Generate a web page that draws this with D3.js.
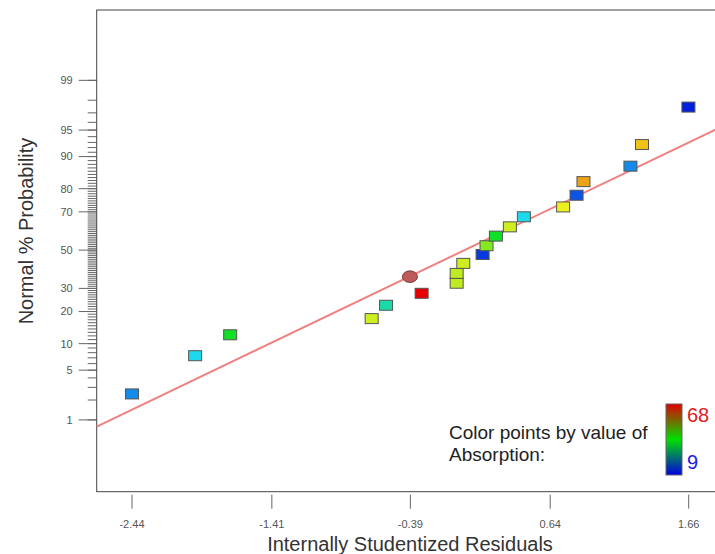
<!DOCTYPE html>
<html>
<head>
<meta charset="utf-8">
<script src="https://cdn.jsdelivr.net/npm/d3@7"></script>
<style>
  body { margin: 0; background: #fff; }
  svg { display: block; }
</style>
</head>
<body>
<script>
// residuals (x), normal % probability (y), absorption (colour) for each run
var residuals = [-2.44, -1.975, -1.717, -0.675, -0.569, -0.307, -0.049, -0.393, -0.049, 0.0, 0.142,
                 0.171, 0.240, 0.343, 0.446, 0.735, 0.834, 0.885, 1.231, 1.316, 1.658];
var probabilities = [2.44, 7.4, 12.3, 17.4, 22.5, 27.7, 32.5, 35.8, 37.5, 42.8, 47.6,
                     52.4, 57.6, 62.5, 67.6, 72.3, 77.4, 82.6, 87.5, 92.6, 97.5];
var absorption = [18, 24, 38, 51, 29, 68, 50, null, 50, 51, 12,
                  46, 38, 51, 24, 53, 14, 58, 18, 56, 10];

// fitted line end points
var lineResiduals = [-2.70, 1.92];
var lineProbabilities = [0.78, 95.6];

var xTicks = [-2.44, -1.41, -0.39, 0.64, 1.66];
var yMajorTicks = [1, 5, 10, 20, 30, 50, 70, 80, 90, 95, 99];
var yMinorTicks = d3.range(1, 100);

var absorptionMin = 9, absorptionMax = 68;

// inverse normal cdf (Acklam)
function probit(p) {
	var a = [-39.69683028665376, 220.9460984245205, -275.9285104469687, 138.357751867269, -30.66479806614716, 2.506628277459239];
	var b = [-54.47609879822406, 161.5858368580409, -155.6989798598866, 66.80131188771972, -13.28068155288572];
	var c = [-0.007784894002430293, -0.3223964580411365, -2.400758277161838, -2.549732539343734, 4.374664141464968, 2.938163982698783];
	var d = [0.007784695709041462, 0.3224671290700398, 2.445134137142996, 3.754408661907416];
	var pl = 0.02425, q, r;
	if (p < pl) {
		q = Math.sqrt(-2 * Math.log(p));
		return (((((c[0]*q+c[1])*q+c[2])*q+c[3])*q+c[4])*q+c[5]) / ((((d[0]*q+d[1])*q+d[2])*q+d[3])*q+1);
	}
	if (p > 1 - pl) {
		q = Math.sqrt(-2 * Math.log(1 - p));
		return -(((((c[0]*q+c[1])*q+c[2])*q+c[3])*q+c[4])*q+c[5]) / ((((d[0]*q+d[1])*q+d[2])*q+d[3])*q+1);
	}
	q = p - 0.5;
	r = q * q;
	return (((((a[0]*r+a[1])*r+a[2])*r+a[3])*r+a[4])*r+a[5])*q / (((((b[0]*r+b[1])*r+b[2])*r+b[3])*r+b[4])*r+1);
}

var plotLeft = 96.7, plotTop = 10, plotRight = 724, plotBottom = 491.7;

var svg = d3.select("body").append("svg")
	.attr("width", 715)
	.attr("height", 554);

var x = d3.scaleLinear().domain([-2.70, 1.92]).range([plotLeft, plotRight]);
var z = d3.scaleLinear().domain([-3.31, 3.29]).range([plotBottom, plotTop]);
function y(pct) { return z(probit(pct / 100)); }

var color = d3.scaleLinear()
	.domain([9, 23.75, 38.5, 53.25, 68])
	.range(["#0010e0", "#20d8f0", "#10e020", "#f0f020", "#e80000"]);

var data = residuals.map(function(r, i) {
	return {r: r, p: probabilities[i], a: absorption[i]};
});

var tickFont = "'Liberation Sans Narrow', 'Arial Narrow', sans-serif";
var textFont = "Arial, 'Liberation Sans', sans-serif";

// y axis ticks (normal probability)
svg.selectAll(".ymin")
	.data(yMinorTicks)
	.enter().append("line")
	.attr("x1", plotLeft - 9)
	.attr("x2", plotLeft)
	.attr("y1", function(d) { return y(d); })
	.attr("y2", function(d) { return y(d); })
	.attr("stroke", "#666")
	.attr("stroke-width", 1);

svg.selectAll(".ymaj")
	.data(yMajorTicks)
	.enter().append("line")
	.attr("x1", plotLeft - 18)
	.attr("x2", plotLeft)
	.attr("y1", function(d) { return y(d); })
	.attr("y2", function(d) { return y(d); })
	.attr("stroke", "#666")
	.attr("stroke-width", 1);

svg.selectAll(".ylab")
	.data(yMajorTicks)
	.enter().append("text")
	.attr("x", plotLeft - 24)
	.attr("y", function(d) { return y(d); })
	.attr("dy", "0.35em")
	.attr("text-anchor", "end")
	.attr("font-family", tickFont)
	.attr("font-size", "11px")
	.attr("fill", "#555")
	.text(function(d) { return d; });

// x axis ticks
svg.selectAll(".xtick")
	.data(xTicks)
	.enter().append("line")
	.attr("x1", function(d) { return x(d); })
	.attr("x2", function(d) { return x(d); })
	.attr("y1", plotBottom + 3)
	.attr("y2", plotBottom + 17)
	.attr("stroke", "#666")
	.attr("stroke-width", 1);

svg.selectAll(".xlab")
	.data(xTicks)
	.enter().append("text")
	.attr("x", function(d) { return x(d); })
	.attr("y", plotBottom + 32)
	.attr("dy", "0.35em")
	.attr("text-anchor", "middle")
	.attr("font-family", tickFont)
	.attr("font-size", "11px")
	.attr("fill", "#555")
	.text(function(d) { return d.toFixed(2); });

// frame
svg.append("rect")
	.attr("x", plotLeft)
	.attr("y", plotTop)
	.attr("width", plotRight - plotLeft)
	.attr("height", plotBottom - plotTop)
	.attr("fill", "none")
	.attr("stroke", "#444")
	.attr("stroke-width", 1);

// fitted line
var lineData = lineResiduals.map(function(r, i) { return [r, lineProbabilities[i]]; });
svg.append("path")
	.datum(lineData)
	.attr("d", d3.line().x(function(d) { return x(d[0]); }).y(function(d) { return y(d[1]); }))
	.attr("fill", "none")
	.attr("stroke", "#f08080")
	.attr("stroke-width", 2);

// points
svg.selectAll(".pt")
	.data(data.filter(function(d) { return d.a !== null; }))
	.enter().append("rect")
	.attr("class", "pt")
	.attr("x", function(d) { return x(d.r) - 6.5; })
	.attr("y", function(d) { return y(d.p) - 5; })
	.attr("width", 13)
	.attr("height", 10)
	.attr("fill", function(d) { return color(d.a); })
	.attr("stroke", "#555")
	.attr("stroke-width", 1);

svg.selectAll(".sel")
	.data(data.filter(function(d) { return d.a === null; }))
	.enter().append("ellipse")
	.attr("cx", function(d) { return x(d.r); })
	.attr("cy", function(d) { return y(d.p); })
	.attr("rx", 7.5)
	.attr("ry", 5.8)
	.attr("fill", "#c05a5a")
	.attr("stroke", "#7a3a3a")
	.attr("stroke-width", 1);

// axis titles
svg.append("text")
	.attr("x", 410)
	.attr("y", 544)
	.attr("dy", "0.35em")
	.attr("text-anchor", "middle")
	.attr("font-family", textFont)
	.attr("font-size", "20px")
	.attr("fill", "#333")
	.text("Internally Studentized Residuals");

svg.append("text")
	.attr("transform", "translate(33,231) rotate(-90)")
	.attr("text-anchor", "middle")
	.attr("font-family", textFont)
	.attr("font-size", "20px")
	.attr("fill", "#333")
	.text("Normal % Probability");

// legend
svg.append("text")
	.attr("x", 449)
	.attr("y", 439)
	.attr("font-family", textFont)
	.attr("font-size", "19px")
	.attr("fill", "#222")
	.text("Color points by value of");

svg.append("text")
	.attr("x", 449)
	.attr("y", 461)
	.attr("font-family", textFont)
	.attr("font-size", "19px")
	.attr("fill", "#222")
	.text("Absorption:");

var grad = svg.append("defs").append("linearGradient")
	.attr("id", "absGrad")
	.attr("x1", 0).attr("y1", 0).attr("x2", 0).attr("y2", 1);
grad.append("stop").attr("offset", "0%").attr("stop-color", "#e00000");
grad.append("stop").attr("offset", "50%").attr("stop-color", "#00e000");
grad.append("stop").attr("offset", "100%").attr("stop-color", "#0000e0");

svg.append("rect")
	.attr("x", 666)
	.attr("y", 404)
	.attr("width", 16)
	.attr("height", 71)
	.attr("fill", "url(#absGrad)")
	.attr("stroke", "#666")
	.attr("stroke-width", 1);

svg.append("text")
	.attr("x", 687)
	.attr("y", 415)
	.attr("dy", "0.35em")
	.attr("font-family", textFont)
	.attr("font-size", "20px")
	.attr("fill", "#e02020")
	.text(absorptionMax);

svg.append("text")
	.attr("x", 687)
	.attr("y", 462)
	.attr("dy", "0.35em")
	.attr("font-family", textFont)
	.attr("font-size", "20px")
	.attr("fill", "#2020e0")
	.text(absorptionMin);
</script>
</body>
</html>
